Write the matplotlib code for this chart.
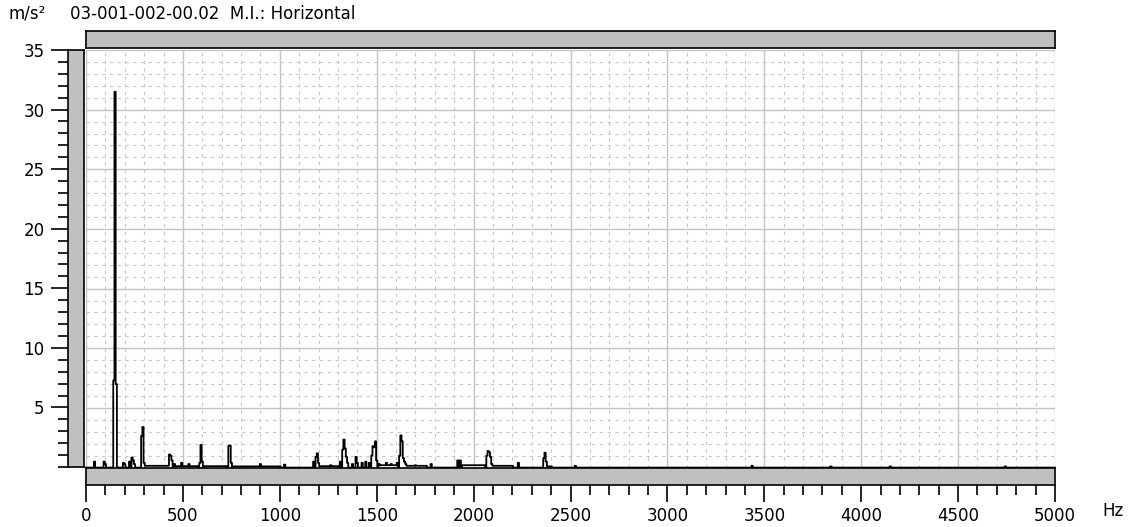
import numpy as np
import matplotlib.pyplot as plt
from matplotlib.ticker import MultipleLocator

# spectrum peaks (Hz, m/s²)
peak_freq = [44, 94, 100, 144, 150, 156, 191, 203, 225, 237, 244, 250,
             287, 294, 300, 431, 437, 444, 456, 494, 531, 587, 593, 600,
             737, 744, 750, 900, 1027, 1175, 1187, 1194, 1200, 1262,
             1312, 1325, 1331, 1337, 1344, 1350, 1375, 1394, 1400, 1425,
             1444, 1462, 1475, 1481, 1487, 1494, 1500, 1512, 1550, 1575,
             1606, 1619, 1625, 1631, 1637, 1644, 1650, 1700, 1784,
             1919, 1931, 2069, 2075, 2081, 2087, 2094, 2231,
             2362, 2369, 2375, 2525, 3437, 3843, 4150, 4744]
peak_amp = [0.5, 0.5, 0.3, 7.3, 31.5, 7.0, 0.4, 0.3, 0.5, 0.85, 0.6, 0.3,
            2.65, 3.4, 0.4, 1.1, 1.0, 0.6, 0.3, 0.4, 0.3, 0.4, 1.9, 0.5,
            1.8, 1.85, 0.4, 0.3, 0.25, 0.5, 0.9, 1.2, 0.4, 0.2,
            0.5, 1.5, 2.35, 1.6, 0.9, 0.4, 0.3, 0.9, 0.4, 0.4,
            0.5, 0.4, 1.0, 1.8, 1.7, 2.2, 0.6, 0.3, 0.4, 0.3,
            0.4, 1.0, 2.7, 2.2, 0.8, 0.5, 0.3, 0.2, 0.3,
            0.6, 0.6, 1.0, 1.4, 1.3, 0.9, 0.3, 0.4,
            0.8, 1.25, 0.5, 0.15, 0.15, 0.1, 0.1, 0.1]

# low flat stretches of the spectrum (start Hz, end Hz, level)
floor_start = [300, 460, 610, 760, 1200, 1510, 1650, 1940, 2100, 2380]
floor_end = [425, 580, 730, 1000, 1300, 1600, 1760, 2060, 2200, 2400]
floor_level = [0.15, 0.12, 0.12, 0.1, 0.12, 0.2, 0.15, 0.2, 0.15, 0.1]

df = 6.25
freq = np.arange(0, 5000 + df, df)
amp = np.zeros_like(freq)
for s, e, lv in zip(floor_start, floor_end, floor_level):
    amp[(freq >= s) & (freq <= e)] = lv
for f, a in zip(peak_freq, peak_amp):
    amp[int(round(f / df))] = a

W, H = 1130, 527
fig = plt.figure(figsize=(W / 100, H / 100), dpi=100)
plt.rcParams['font.family'] = 'DejaVu Sans'


def rect(x0, y0, x1, y1):
    return [x0 / W, 1 - y1 / H, (x1 - x0) / W, (y1 - y0) / H]


bar_col = '#c0c0c0'

ax = fig.add_axes(rect(86, 50, 1055, 467.6))
ax.set_xlim(0, 5000)
ax.set_ylim(0, 35)
ax.xaxis.set_major_locator(MultipleLocator(500))
ax.xaxis.set_minor_locator(MultipleLocator(100))
ax.yaxis.set_major_locator(MultipleLocator(5))
ax.yaxis.set_minor_locator(MultipleLocator(1))
ax.grid(which='major', color='#c4c4c4', lw=1.0)
ax.grid(which='minor', color='#c8c8c8', lw=0.8, linestyle=(0, (3, 4)))
ax.tick_params(which='both', length=0, labelbottom=False, labelleft=False)
for s in ax.spines.values():
    s.set_visible(False)
ax.set_axisbelow(True)
ax.plot(freq, amp, color='black', lw=1.3, drawstyle='steps-mid', clip_on=False)

# top bar
axt = fig.add_axes(rect(86, 31, 1055, 48))
axt.set_facecolor(bar_col)
axt.set_xticks([])
axt.set_yticks([])
for s in axt.spines.values():
    s.set_linewidth(1.2)

# left bar with y ticks
axl = fig.add_axes(rect(68, 50, 84, 467))
axl.set_facecolor(bar_col)
axl.set_ylim(0, 35)
axl.set_xticks([])
axl.set_yticks([5, 10, 15, 20, 25, 30, 35])
axl.yaxis.set_minor_locator(MultipleLocator(1))
axl.tick_params(axis='y', which='major', length=12, width=1.2, labelsize=12, pad=5)
axl.tick_params(axis='y', which='minor', length=7, width=1.2)
for s in axl.spines.values():
    s.set_linewidth(1.2)

# bottom bar with x ticks
axb = fig.add_axes(rect(86, 468, 1055, 485))
axb.set_facecolor(bar_col)
axb.set_xlim(0, 5000)
axb.set_yticks([])
axb.xaxis.set_major_locator(MultipleLocator(500))
axb.xaxis.set_minor_locator(MultipleLocator(100))
axb.tick_params(axis='x', which='major', length=12, width=1.2, labelsize=12, pad=4)
axb.tick_params(axis='x', which='minor', length=7, width=1.2)
for s in axb.spines.values():
    s.set_linewidth(1.2)

fig.text(8 / W, 1 - 14 / H, 'm/s²', fontsize=12, va='center', ha='left')
fig.text(70 / W, 1 - 14 / H, '03-001-002-00.02  M.I.: Horizontal',
         fontsize=12, va='center', ha='left')
fig.text(1102 / W, 1 - 511 / H, 'Hz', fontsize=12, va='center', ha='left')

fig.savefig('out.png', dpi=100)
